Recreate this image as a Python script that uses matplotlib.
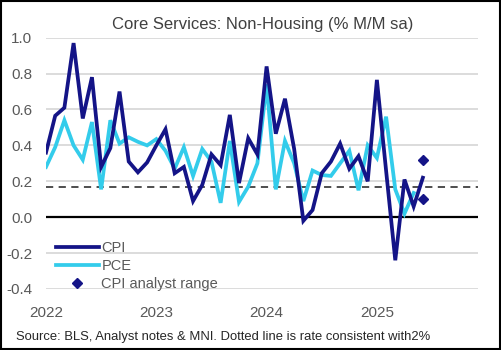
import numpy as np
import matplotlib.pyplot as plt
from matplotlib.patches import Rectangle

# monthly, Jan 2022 .. Jun 2025
cpi = [0.36, 0.565, 0.61, 0.97, 0.55, 0.78, 0.28, 0.385, 0.70, 0.31, 0.25, 0.305,
       0.40, 0.49, 0.245, 0.28, 0.09, 0.18, 0.35, 0.29, 0.57, 0.19, 0.44, 0.35,
       0.84, 0.465, 0.66, 0.38, -0.02, 0.04, 0.245, 0.31, 0.41, 0.27, 0.34, 0.20,
       0.765, 0.26, -0.24, 0.21, 0.06, 0.22]
pce = [0.28, 0.39, 0.54, 0.40, 0.32, 0.53, 0.155, 0.54, 0.41, 0.445, 0.42, 0.40,
       0.435, 0.37, 0.27, 0.39, 0.23, 0.38, 0.31, 0.08, 0.425, 0.085, 0.17, 0.30,
       0.74, 0.155, 0.425, 0.30, 0.09, 0.26, 0.235, 0.23, 0.30, 0.37, 0.15, 0.40,
       0.33, 0.56, 0.155, 0.02, 0.135]
analyst_idx = [41, 41]
analyst_range = [0.32, 0.10]
target_rate = 0.167
year_ticks = [0, 12, 24, 36]
year_labels = ['2022', '2023', '2024', '2025']

plt.rcParams['font.family'] = ['Liberation Sans', 'DejaVu Sans']

navy = '#141487'
cyan = '#33CCEB'
grey_txt = '#595959'

fig = plt.figure(figsize=(5.01, 3.5), dpi=100)
ax = fig.add_axes([46 / 501, 1 - 289 / 350, 432 / 501, (289 - 37.7) / 350])

for y in np.arange(-0.4, 1.01, 0.2):
    if abs(y) > 1e-9:
        ax.axhline(y, color='#d9d9d9', lw=1.3, zorder=0)
ax.axhline(0, color='black', lw=1.6, zorder=1)
ax.axhline(target_rate, color='#404040', lw=1.3, ls=(0, (4, 3)), zorder=1)

ax.plot(range(len(cpi)), cpi, color=navy, lw=2.7, label='CPI', zorder=3,
        solid_joinstyle='miter')
ax.plot(range(len(pce)), pce, color=cyan, lw=2.7, label='PCE', zorder=2,
        solid_joinstyle='miter')
ax.plot(analyst_idx, analyst_range, ls='none', marker='D', ms=5.5, color=navy,
        label='CPI analyst range', zorder=4)

ax.set_xlim(0, 47)
ax.set_ylim(-0.4, 1.0)
ax.set_yticks(np.arange(-0.4, 1.01, 0.2))
ax.set_yticklabels(['-0.4', '-0.2', '0.0', '0.2', '0.4', '0.6', '0.8', '1.0'])
ax.set_xticks(year_ticks)
ax.set_xticklabels(year_labels)
ax.tick_params(length=0, labelsize=11, labelcolor=grey_txt)
ax.tick_params(axis='x', pad=12)
ax.tick_params(axis='y', pad=10)
for s in ax.spines.values():
    s.set_visible(False)

leg = ax.legend(loc='lower left', bbox_to_anchor=(0.0, -0.05), frameon=False,
                fontsize=10.5, handlelength=2.9, handletextpad=0.2,
                labelspacing=0.3, borderaxespad=0.3)
for t in leg.get_texts():
    t.set_color(grey_txt)

fig.text(0.525, 0.93, 'Core Services: Non-Housing (% M/M sa)', ha='center',
         va='center', fontsize=12, color='#404040')
fig.text(16 / 501, 1 - 337 / 350,
         'Source: BLS, Analyst notes & MNI. Dotted line is rate consistent with2%',
         ha='left', va='center', fontsize=9.35, color='#262626')

fig.patches.append(Rectangle((0.002, 0.003), 0.996, 0.994, transform=fig.transFigure,
                             fill=False, edgecolor='black', lw=1.5))

fig.savefig('out.png', dpi=100)
